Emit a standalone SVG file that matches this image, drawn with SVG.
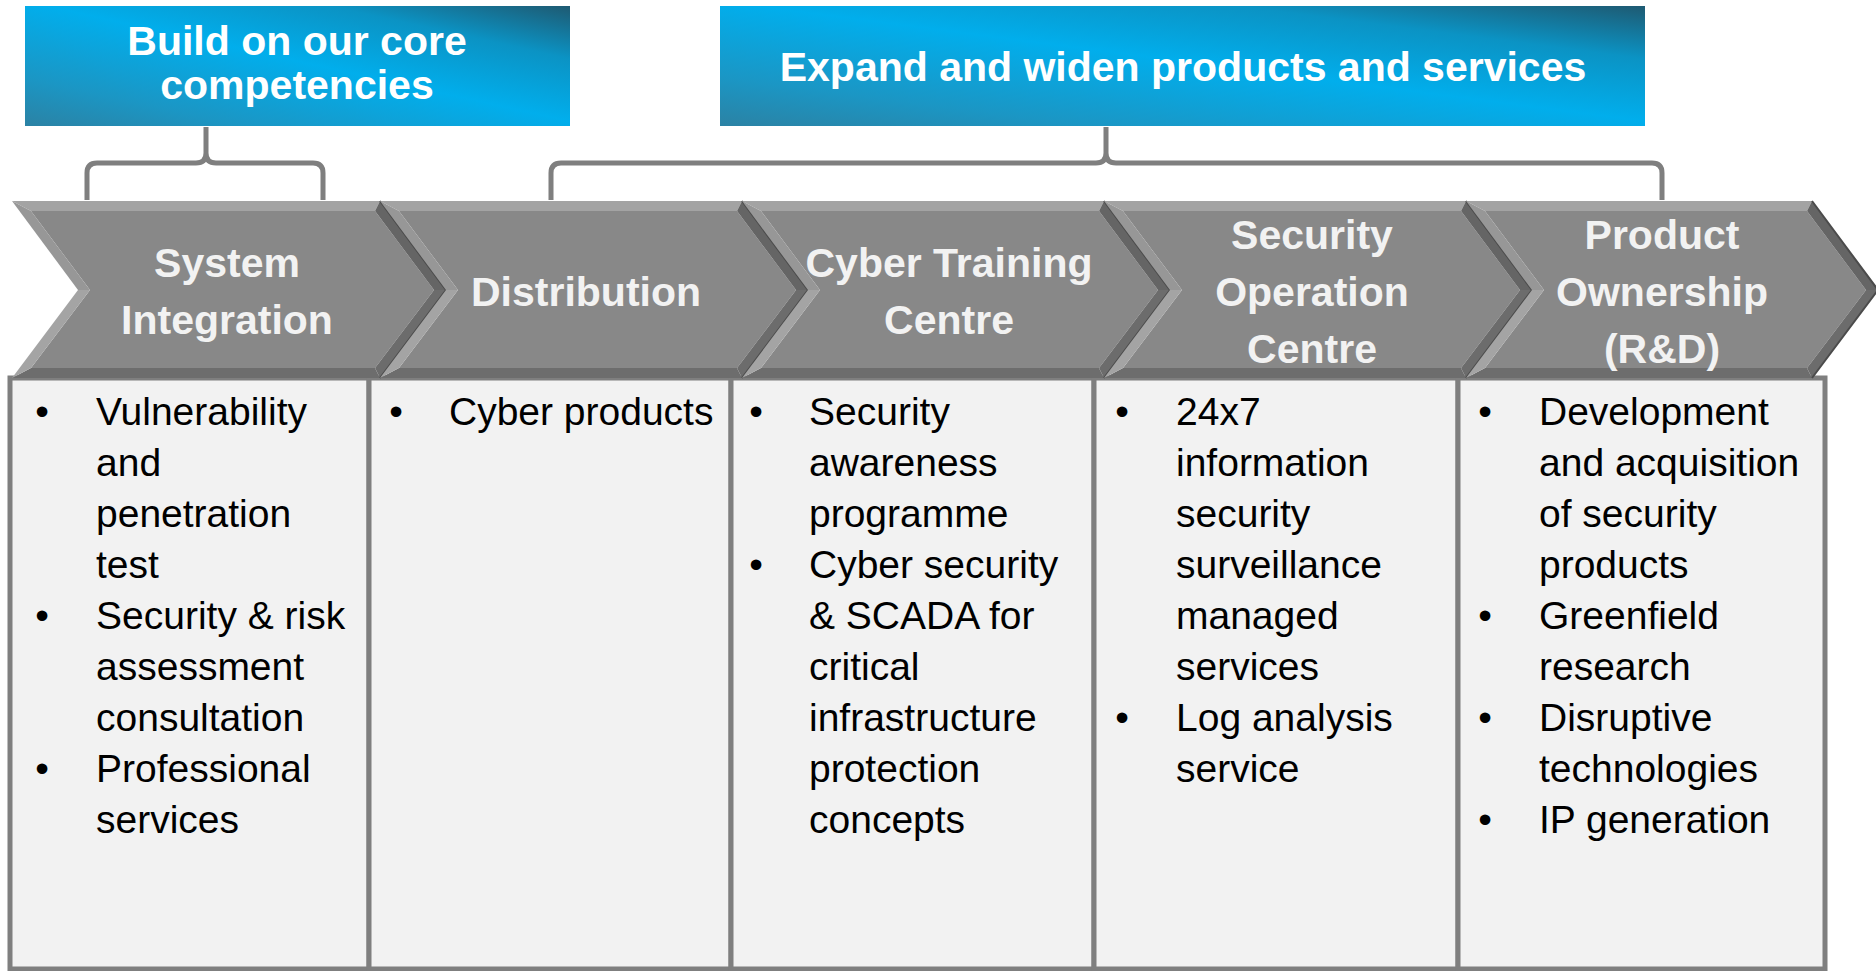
<svg xmlns="http://www.w3.org/2000/svg" width="1876" height="971" viewBox="0 0 1876 971">
<defs>
<linearGradient id="hdr" x1="0" y1="1" x2="1" y2="0">
<stop offset="0" stop-color="#2b82a4"/>
<stop offset="0.2" stop-color="#1b96c4"/>
<stop offset="0.52" stop-color="#01aeec"/>
<stop offset="0.78" stop-color="#0b93c4"/>
<stop offset="1" stop-color="#1e5a72"/>
</linearGradient>
<style>
.hdrbox{fill:url(#hdr);}
.hdrtxt{font-family:"Liberation Sans",Arial,sans-serif;font-weight:bold;font-size:41px;fill:#ffffff;text-anchor:middle;}
.chtxt{font-family:"Liberation Sans",Arial,sans-serif;font-weight:bold;font-size:41px;fill:#f2f2f2;text-anchor:middle;}
.box{fill:#f2f2f2;stroke:#7f7f7f;stroke-width:5;}
.body{font-family:"Liberation Sans",Arial,sans-serif;font-size:39px;fill:#000000;}
.bul{font-family:"Liberation Sans",Arial,sans-serif;font-size:39px;fill:#000000;text-anchor:middle;}
.brk{fill:none;stroke:#7f7f7f;stroke-width:5;stroke-linejoin:round;}
.fin{fill:#888888;}
.ft{fill:#a3a3a3;}
.fru{fill:#656565;}
.frl{fill:#6c6c6c;}
.fb{fill:#6d6d6d;}
.fll{fill:#a4a4a4;}
.flu{fill:#979797;}
.edge{fill:none;stroke:#4b4b4b;stroke-width:2;}
</style>
</defs>

<g id="header-core">
<rect class="hdrbox" x="25" y="6" width="545" height="120"/>
<text class="hdrtxt" x="297" y="55">Build on our core</text>
<text class="hdrtxt" x="297" y="99">competencies</text>
</g>

<g id="header-expand">
<rect class="hdrbox" x="720" y="6" width="925" height="120"/>
<text class="hdrtxt" x="1183" y="81">Expand and widen products and services</text>
</g>

<g id="connectors">
<path class="brk" d="M87,200 V173 Q87,163 97,163 H196 Q206,163 206,153 V127 M206,153 Q206,163 216,163 H313 Q323,163 323,173 V200"/>
<path class="brk" d="M551,200 V173 Q551,163 561,163 H1096 Q1106,163 1106,153 V127 M1106,153 Q1106,163 1116,163 H1652 Q1662,163 1662,173 V200"/>
</g>

<g id="box-si">
<rect class="box" x="10" y="378" width="359" height="591"/>
<text class="bul" x="42" y="425">•</text>
<text class="body" x="96" y="425">Vulnerability</text>
<text class="body" x="96" y="476">and</text>
<text class="body" x="96" y="527">penetration</text>
<text class="body" x="96" y="578">test</text>
<text class="bul" x="42" y="629">•</text>
<text class="body" x="96" y="629">Security &amp; risk</text>
<text class="body" x="96" y="680">assessment</text>
<text class="body" x="96" y="731">consultation</text>
<text class="bul" x="42" y="782">•</text>
<text class="body" x="96" y="782">Professional</text>
<text class="body" x="96" y="833">services</text>
</g>

<g id="box-dist">
<rect class="box" x="369" y="378" width="362" height="591"/>
<text class="bul" x="396" y="425">•</text>
<text class="body" x="449" y="425">Cyber products</text>
</g>

<g id="box-ctc">
<rect class="box" x="731" y="378" width="363" height="591"/>
<text class="bul" x="756" y="425">•</text>
<text class="body" x="809" y="425">Security</text>
<text class="body" x="809" y="476">awareness</text>
<text class="body" x="809" y="527">programme</text>
<text class="bul" x="756" y="578">•</text>
<text class="body" x="809" y="578">Cyber security</text>
<text class="body" x="809" y="629">&amp; SCADA for</text>
<text class="body" x="809" y="680">critical</text>
<text class="body" x="809" y="731">infrastructure</text>
<text class="body" x="809" y="782">protection</text>
<text class="body" x="809" y="833">concepts</text>
</g>

<g id="box-soc">
<rect class="box" x="1094" y="378" width="364" height="591"/>
<text class="bul" x="1122" y="425">•</text>
<text class="body" x="1176" y="425">24x7</text>
<text class="body" x="1176" y="476">information</text>
<text class="body" x="1176" y="527">security</text>
<text class="body" x="1176" y="578">surveillance</text>
<text class="body" x="1176" y="629">managed</text>
<text class="body" x="1176" y="680">services</text>
<text class="bul" x="1122" y="731">•</text>
<text class="body" x="1176" y="731">Log analysis</text>
<text class="body" x="1176" y="782">service</text>
</g>

<g id="box-rd">
<rect class="box" x="1458" y="378" width="367" height="591"/>
<text class="bul" x="1485" y="425">•</text>
<text class="body" x="1539" y="425">Development</text>
<text class="body" x="1539" y="476">and acquisition</text>
<text class="body" x="1539" y="527">of security</text>
<text class="body" x="1539" y="578">products</text>
<text class="bul" x="1485" y="629">•</text>
<text class="body" x="1539" y="629">Greenfield</text>
<text class="body" x="1539" y="680">research</text>
<text class="bul" x="1485" y="731">•</text>
<text class="body" x="1539" y="731">Disruptive</text>
<text class="body" x="1539" y="782">technologies</text>
<text class="bul" x="1485" y="833">•</text>
<text class="body" x="1539" y="833">IP generation</text>
</g>

<g id="chev-si">
<polygon class="fin" points="31,211 375,211 434,290 375,368 31,368 90,290"/>
<polygon class="ft" points="12,201 380,201 375,211 31,211"/>
<polygon class="fru" points="380,201 446,290 434,290 375,211"/>
<polygon class="frl" points="446,290 380,378 375,368 434,290"/>
<polygon class="fb" points="380,378 12,378 31,368 375,368"/>
<polygon class="fll" points="12,378 78,290 90,290 31,368"/>
<polygon class="flu" points="78,290 12,201 31,211 90,290"/>
<polyline class="edge" points="380,201 446,290 380,378"/>
<text class="chtxt" x="227" y="277">System</text>
<text class="chtxt" x="227" y="334">Integration</text>
</g>

<g id="chev-dist">
<polygon class="fin" points="399,211 737,211 796,290 737,368 399,368 458,290"/>
<polygon class="ft" points="380,201 742,201 737,211 399,211"/>
<polygon class="fru" points="742,201 808,290 796,290 737,211"/>
<polygon class="frl" points="808,290 742,378 737,368 796,290"/>
<polygon class="fb" points="742,378 380,378 399,368 737,368"/>
<polygon class="fll" points="380,378 446,290 458,290 399,368"/>
<polygon class="flu" points="446,290 380,201 399,211 458,290"/>
<polyline class="edge" points="742,201 808,290 742,378"/>
<text class="chtxt" x="586" y="306">Distribution</text>
</g>

<g id="chev-ctc">
<polygon class="fin" points="761,211 1099,211 1158,290 1099,368 761,368 820,290"/>
<polygon class="ft" points="742,201 1104,201 1099,211 761,211"/>
<polygon class="fru" points="1104,201 1170,290 1158,290 1099,211"/>
<polygon class="frl" points="1170,290 1104,378 1099,368 1158,290"/>
<polygon class="fb" points="1104,378 742,378 761,368 1099,368"/>
<polygon class="fll" points="742,378 808,290 820,290 761,368"/>
<polygon class="flu" points="808,290 742,201 761,211 820,290"/>
<polyline class="edge" points="1104,201 1170,290 1104,378"/>
<text class="chtxt" x="949" y="277">Cyber Training</text>
<text class="chtxt" x="949" y="334">Centre</text>
</g>

<g id="chev-soc">
<polygon class="fin" points="1123,211 1461,211 1520,290 1461,368 1123,368 1182,290"/>
<polygon class="ft" points="1104,201 1466,201 1461,211 1123,211"/>
<polygon class="fru" points="1466,201 1532,290 1520,290 1461,211"/>
<polygon class="frl" points="1532,290 1466,378 1461,368 1520,290"/>
<polygon class="fb" points="1466,378 1104,378 1123,368 1461,368"/>
<polygon class="fll" points="1104,378 1170,290 1182,290 1123,368"/>
<polygon class="flu" points="1170,290 1104,201 1123,211 1182,290"/>
<polyline class="edge" points="1466,201 1532,290 1466,378"/>
<text class="chtxt" x="1312" y="249">Security</text>
<text class="chtxt" x="1312" y="306">Operation</text>
<text class="chtxt" x="1312" y="363">Centre</text>
</g>

<g id="chev-rd">
<polygon class="fin" points="1485,211 1807,211 1866,290 1807,368 1485,368 1544,290"/>
<polygon class="ft" points="1466,201 1812,201 1807,211 1485,211"/>
<polygon class="fru" points="1812,201 1878,290 1866,290 1807,211"/>
<polygon class="frl" points="1878,290 1812,378 1807,368 1866,290"/>
<polygon class="fb" points="1812,378 1466,378 1485,368 1807,368"/>
<polygon class="fll" points="1466,378 1532,290 1544,290 1485,368"/>
<polygon class="flu" points="1532,290 1466,201 1485,211 1544,290"/>
<polyline class="edge" points="1812,201 1878,290 1812,378"/>
<text class="chtxt" x="1662" y="249">Product</text>
<text class="chtxt" x="1662" y="306">Ownership</text>
<text class="chtxt" x="1662" y="363">(R&amp;D)</text>
</g>
</svg>
